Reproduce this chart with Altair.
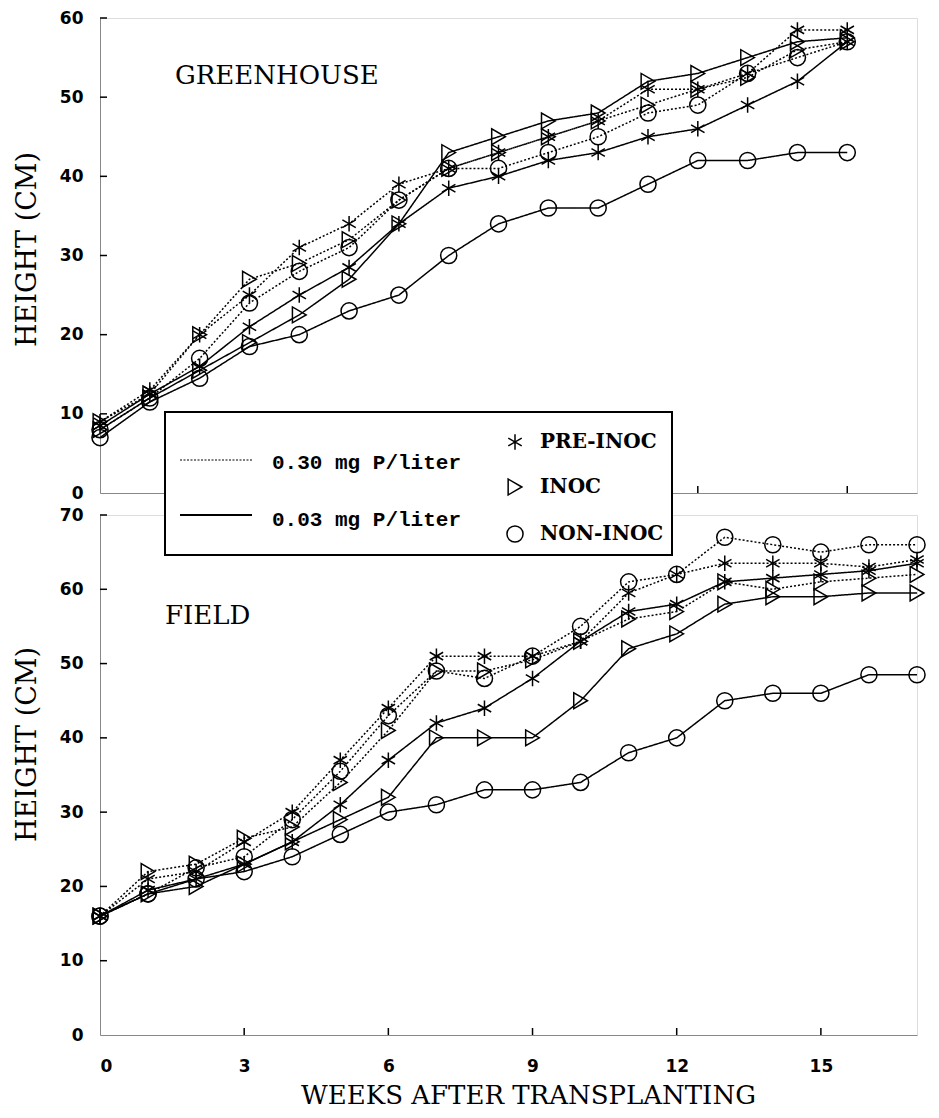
import altair as alt
import pandas as pd

# ---------------- data ----------------
weeks_gh = list(range(16))
weeks_field = list(range(18))

conc_levels = ["0.30 mg P/liter", "0.03 mg P/liter"]
treat_levels = ["PRE-INOC", "INOC", "NON-INOC"]

# GREENHOUSE
gh_pre_030 = [9, 13, 20, 25, 31, 34, 39, 41, 43, 45, 47, 51, 51, 53, 58.5, 58.5]
gh_inoc_030 = [9, 12.5, 20, 27, 29, 32, 37, 41, 43, 45, 47, 49, 51, 52.5, 56, 57]
gh_non_030 = [8, 12, 17, 24, 28, 31, 37, 41, 41, 43, 45, 48, 49, 53, 55, 57]
gh_pre_003 = [8.5, 12.5, 16, 21, 25, 28.5, 34, 38.5, 40, 42, 43, 45, 46, 49, 52, 57]
gh_inoc_003 = [8, 12, 15.5, 19, 22.5, 27, 34, 43, 45, 47, 48, 52, 53, 55, 57, 57.5]
gh_non_003 = [7, 11.5, 14.5, 18.5, 20, 23, 25, 30, 34, 36, 36, 39, 42, 42, 43, 43]

# FIELD
f_pre_030 = [16, 21, 22, 26, 30, 37, 44, 51, 51, 51, 53, 59.5, 62, 63.5, 63.5, 63.5, 63, 64]
f_inoc_030 = [16, 22, 23, 26.5, 28, 34, 41, 49, 49, 50.5, 53, 56, 57, 61, 60, 61, 61.5, 62]
f_non_030 = [16, 19, 22.5, 24, 29, 35.5, 43, 49, 48, 51, 55, 61, 62, 67, 66, 65, 66, 66]
f_pre_003 = [16, 19.5, 21, 23, 26, 31, 37, 42, 44, 48, 53, 57, 58, 61, 61.5, 62, 62.5, 63.5]
f_inoc_003 = [16, 19, 20, 23, 26, 29, 32, 40, 40, 40, 45, 52, 54, 58, 59, 59, 59.5, 59.5]
f_non_003 = [16, 19, 21, 22, 24, 27, 30, 31, 33, 33, 34, 38, 40, 45, 46, 46, 48.5, 48.5]

gh_yticks = [0, 10, 20, 30, 40, 50, 60]
field_yticks = [0, 10, 20, 30, 40, 50, 60, 70]
xticks = [0, 3, 6, 9, 12, 15]


def to_long(weeks, series):
    rows = []
    for (conc, treat), vals in series.items():
        for w, v in zip(weeks, vals):
            rows.append({"week": w, "height": v, "conc": conc, "treat": treat,
                         "series": conc + "|" + treat})
    return pd.DataFrame(rows)


df_gh = to_long(weeks_gh, {
    (conc_levels[0], "PRE-INOC"): gh_pre_030,
    (conc_levels[0], "INOC"): gh_inoc_030,
    (conc_levels[0], "NON-INOC"): gh_non_030,
    (conc_levels[1], "PRE-INOC"): gh_pre_003,
    (conc_levels[1], "INOC"): gh_inoc_003,
    (conc_levels[1], "NON-INOC"): gh_non_003,
})
df_field = to_long(weeks_field, {
    (conc_levels[0], "PRE-INOC"): f_pre_030,
    (conc_levels[0], "INOC"): f_inoc_030,
    (conc_levels[0], "NON-INOC"): f_non_030,
    (conc_levels[1], "PRE-INOC"): f_pre_003,
    (conc_levels[1], "INOC"): f_inoc_003,
    (conc_levels[1], "NON-INOC"): f_non_003,
})

# ---------------- styling ----------------
STAR = "M0,-1L0,1M-0.866,-0.5L0.866,0.5M-0.866,0.5L0.866,-0.5"
shape_scale = alt.Scale(domain=treat_levels, range=[STAR, "triangle-right", "circle"])
size_scale = alt.Scale(domain=treat_levels, range=[240, 260, 300])
dash_scale = alt.Scale(domain=conc_levels, range=[[2, 2], [1, 0]])

W = 817
H_TOP = 475
H_BOT = 520
LW = 1.5
TICK_FONT = "DejaVu Sans"
SERIF = "DejaVu Serif"


def panel(df, xmax, ymax, yticks, height, label_text, label_x, label_y,
          bottom_axis, ytitle_y):
    if bottom_axis:
        xaxis = alt.Axis(values=xticks, ticks=False, grid=False, labelPadding=23,
                         labelFont=TICK_FONT, labelFontWeight="bold", labelFontSize=17,
                         title="WEEKS AFTER TRANSPLANTING", titleFont=SERIF,
                         titleFontWeight="normal", titleFontSize=26, titlePadding=8,
                         titleX=428)
    else:
        xaxis = alt.Axis(labels=False, ticks=False, grid=False, title=None)
    x_enc = alt.X("week:Q", scale=alt.Scale(domain=[0, xmax], nice=False, zero=True), axis=xaxis)
    y_enc = alt.Y("height:Q", scale=alt.Scale(domain=[0, ymax], nice=False),
                  axis=alt.Axis(values=yticks, ticks=False, grid=False, labelPadding=17,
                                labelFont=TICK_FONT, labelFontWeight="bold", labelFontSize=17,
                                title="HEIGHT (CM)", titleFont=SERIF, titleFontWeight="normal",
                                titleFontSize=27, titlePadding=18, titleY=ytitle_y))

    lines = alt.Chart(df).mark_line(color="black", strokeWidth=LW).encode(
        x=x_enc, y=y_enc, detail="series:N",
        strokeDash=alt.StrokeDash("conc:N", scale=dash_scale, legend=None),
    )
    pts = alt.Chart(df).mark_point(filled=False, color="black", strokeWidth=LW, opacity=1).encode(
        x=x_enc, y=y_enc,
        shape=alt.Shape("treat:N", scale=shape_scale, legend=None),
        size=alt.Size("treat:N", scale=size_scale, legend=None),
    )
    ytk = alt.Chart(pd.DataFrame({"height": [v for v in yticks if v > 0]})).mark_rule(
        color="black", strokeWidth=LW).encode(y=y_enc, x=alt.value(0), x2=alt.value(7))
    xtk = alt.Chart(pd.DataFrame({"week": [v for v in xticks if v > 0]})).mark_rule(
        color="black", strokeWidth=LW).encode(x=x_enc, y=alt.value(height), y2=alt.value(height - 7))
    lab = alt.Chart(pd.DataFrame({"t": [label_text]})).mark_text(
        align="left", baseline="middle", font=SERIF, fontSize=26, color="black").encode(
        text="t:N", x=alt.value(label_x), y=alt.value(label_y))
    return [lines, pts, ytk, xtk, lab]


top_layers = panel(df_gh, 16.4, 60, gh_yticks, H_TOP, "GREENHOUSE", 75, 58, False, 231)
bot_layers = panel(df_field, 17, 70, field_yticks, H_BOT, "FIELD", 65, 101, True, 229)

# ---------------- legend (drawn on top, overlapping both panels) ----------------
one = pd.DataFrame({"k": [0]})
leg_box = alt.Chart(one).mark_rect(fill="white", stroke="black", strokeWidth=2).encode(
    x=alt.value(65), x2=alt.value(572), y=alt.value(-103), y2=alt.value(40))
leg_dot = alt.Chart(one).mark_rule(color="black", strokeWidth=1.2, strokeDash=[2, 1.5]).encode(
    x=alt.value(80), x2=alt.value(152), y=alt.value(-55))
leg_solid = alt.Chart(one).mark_rule(color="black", strokeWidth=1.8).encode(
    x=alt.value(80), x2=alt.value(152), y=alt.value(0))
leg_t1 = alt.Chart(pd.DataFrame({"t": [conc_levels[0]]})).mark_text(
    align="left", baseline="middle", font="Liberation Mono", fontWeight="bold", fontSize=21,
    color="black").encode(text="t:N", x=alt.value(172), y=alt.value(-52))
leg_t2 = alt.Chart(pd.DataFrame({"t": [conc_levels[1]]})).mark_text(
    align="left", baseline="middle", font="Liberation Mono", fontWeight="bold", fontSize=21,
    color="black").encode(text="t:N", x=alt.value(172), y=alt.value(5))

leg_sym = []
for treat, yy in zip(treat_levels, [-73, -28, 19]):
    d = pd.DataFrame({"treat": [treat]})
    leg_sym.append(alt.Chart(d).mark_point(filled=False, color="black", strokeWidth=LW, opacity=1).encode(
        x=alt.value(415), y=alt.value(yy),
        shape=alt.Shape("treat:N", scale=shape_scale, legend=None),
        size=alt.Size("treat:N", scale=size_scale, legend=None)))
    leg_sym.append(alt.Chart(d).mark_text(
        align="left", baseline="middle", font=SERIF, fontWeight="bold", fontSize=20,
        color="black").encode(text="treat:N", x=alt.value(440), y=alt.value(yy)))

top = alt.layer(*top_layers).properties(width=W, height=H_TOP)
bottom = alt.layer(*bot_layers, leg_box, leg_dot, leg_solid, leg_t1, leg_t2, *leg_sym).properties(
    width=W, height=H_BOT)

chart = alt.vconcat(top, bottom, spacing=22, bounds="flush").properties(
    padding={"left": 4, "top": 0, "right": 0, "bottom": 0}
).configure_view(
    strokeWidth=0, stroke="transparent"
).configure_axis(domainColor="black", domainWidth=LW, labelColor="black",
                 titleColor="black").configure(background="white")

chart.save("out.html", embed_options={"renderer": "svg", "actions": False})
